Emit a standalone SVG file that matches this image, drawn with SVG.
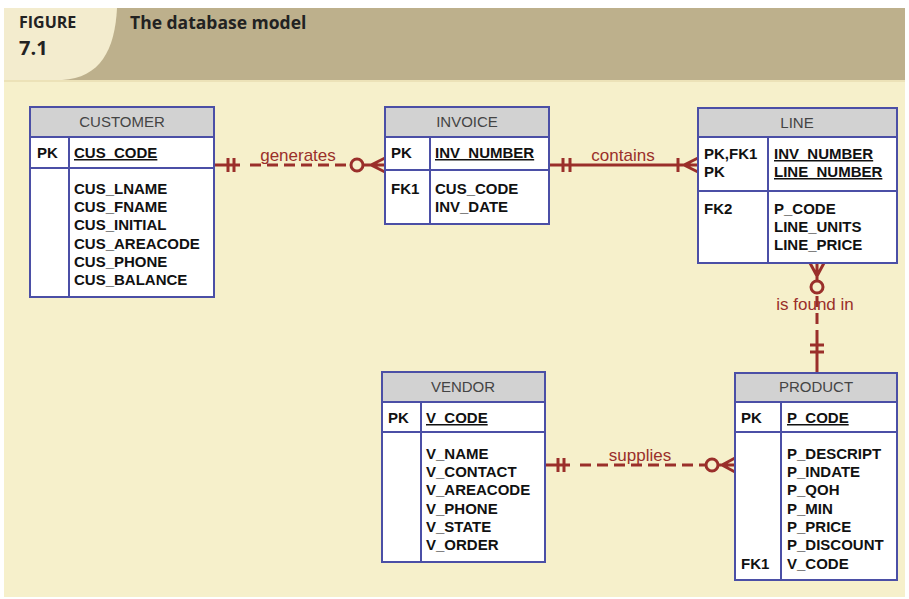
<svg xmlns="http://www.w3.org/2000/svg" width="909" height="599" viewBox="0 0 909 599">
<style>
.box{fill:#ffffff;stroke:#4b4fa6;stroke-width:2}
.hdr{fill:#d2d2d2;stroke:#4b4fa6;stroke-width:2}
.ln{stroke:#4b4fa6;stroke-width:2;fill:none}
.t{font-family:"Liberation Sans",Arial,sans-serif;font-size:15px;font-weight:bold;fill:#111}
.h{font-family:"Liberation Sans",Arial,sans-serif;font-size:15px;fill:#444;text-anchor:middle}
.u{text-decoration:underline}
.c{stroke:#9a2f2a;stroke-width:3;fill:none}
.d{stroke-dasharray:11 6}
.lbl{font-family:"Liberation Sans",Arial,sans-serif;font-size:17px;fill:#9a2f2a;text-anchor:middle}
.ci{stroke:#9a2f2a;stroke-width:3;fill:#f6f0cb}
.fig{font-family:'Open Sans','Noto Sans',sans-serif;font-weight:700;fill:#222}
</style>
<rect x="0" y="0" width="909" height="599" fill="#ffffff"/>
<rect x="4" y="8" width="901" height="589" fill="#f6f0cb"/>
<rect x="4" y="8" width="901" height="72" fill="#bdb08c"/>
<rect x="4" y="80" width="901" height="2" fill="#ece2b8"/>
<path d="M4 8 L117 8 C115 50 100 78 62 80 L4 80 Z" fill="#f3ecce"/>
<text class="fig" x="19" y="28" font-size="16">FIGURE</text>
<text class="fig" x="19" y="55" font-size="20">7.1</text>
<text class="fig" x="130" y="29" font-size="17.5">The database model</text>

<g id="connectors">
  <!-- generates -->
  <path class="c" d="M214 165 H240 M228 158 V172 M234 158 V172"/>
  <path class="c d" d="M250 165 H351"/>
  <path class="c" d="M363 165 H385 M371 165 L385 158 M371 165 L385 172"/>
  <circle class="ci" cx="357" cy="165" r="6"/>
  <text class="lbl" x="298" y="161">generates</text>
  <!-- contains -->
  <path class="c" d="M549 165 H698 M563 158 V172 M570 158 V172 M678 158 V172 M684 165 L698 158 M684 165 L698 172"/>
  <text class="lbl" x="623" y="161">contains</text>
  <!-- is found in -->
  <path class="c" d="M817 263 V281 M817 276 L810 263 M817 276 L824 263"/>
  <path class="c d" d="M817 296 V338"/>
  <path class="c" d="M817 338 V373 M810 345 H824 M810 352 H824"/>
  <circle class="ci" cx="817" cy="287" r="6"/>
  <text class="lbl" x="815" y="310">is found in</text>
  <!-- supplies -->
  <path class="c" d="M545 465 H570 M558 458 V472 M564 458 V472"/>
  <path class="c d" d="M580 465 H706"/>
  <path class="c" d="M718 465 H735 M722 465 L735 458 M722 465 L735 472"/>
  <circle class="ci" cx="712" cy="465" r="6"/>
  <text class="lbl" x="640" y="461">supplies</text>
</g>

<g id="customer">
  <rect class="box" x="30" y="107" width="184" height="190"/>
  <rect class="hdr" x="30" y="107" width="184" height="30"/>
  <path class="ln" d="M30 168 H214 M69 137 V297"/>
  <text class="h" x="122" y="127">CUSTOMER</text>
  <text class="t" x="37" y="158">PK</text>
  <text class="t u" x="74" y="158">CUS_CODE</text>
  <text class="t" x="74" y="194">CUS_LNAME</text>
  <text class="t" x="74" y="212">CUS_FNAME</text>
  <text class="t" x="74" y="230">CUS_INITIAL</text>
  <text class="t" x="74" y="249">CUS_AREACODE</text>
  <text class="t" x="74" y="267">CUS_PHONE</text>
  <text class="t" x="74" y="285">CUS_BALANCE</text>
</g>

<g id="invoice">
  <rect class="box" x="385" y="107" width="164" height="117"/>
  <rect class="hdr" x="385" y="107" width="164" height="30"/>
  <path class="ln" d="M385 170 H549 M430 137 V224"/>
  <text class="h" x="467" y="127">INVOICE</text>
  <text class="t" x="391" y="158">PK</text>
  <text class="t u" x="435" y="158">INV_NUMBER</text>
  <text class="t" x="391" y="194">FK1</text>
  <text class="t" x="435" y="194">CUS_CODE</text>
  <text class="t" x="435" y="212">INV_DATE</text>
</g>

<g id="line">
  <rect class="box" x="698" y="108" width="199" height="155"/>
  <rect class="hdr" x="698" y="108" width="199" height="29"/>
  <path class="ln" d="M698 191 H897 M768 137 V263"/>
  <text class="h" x="797" y="128">LINE</text>
  <text class="t" x="704" y="159">PK,FK1</text>
  <text class="t" x="704" y="177">PK</text>
  <text class="t u" x="774" y="159">INV_NUMBER</text>
  <text class="t u" x="774" y="177">LINE_NUMBER</text>
  <text class="t" x="704" y="214">FK2</text>
  <text class="t" x="774" y="214">P_CODE</text>
  <text class="t" x="774" y="232">LINE_UNITS</text>
  <text class="t" x="774" y="250">LINE_PRICE</text>
</g>

<g id="vendor">
  <rect class="box" x="382" y="372" width="163" height="190"/>
  <rect class="hdr" x="382" y="372" width="163" height="30"/>
  <path class="ln" d="M382 432 H545 M421 402 V562"/>
  <text class="h" x="463" y="392">VENDOR</text>
  <text class="t" x="388" y="423">PK</text>
  <text class="t u" x="426" y="423">V_CODE</text>
  <text class="t" x="426" y="459">V_NAME</text>
  <text class="t" x="426" y="477">V_CONTACT</text>
  <text class="t" x="426" y="495">V_AREACODE</text>
  <text class="t" x="426" y="514">V_PHONE</text>
  <text class="t" x="426" y="532">V_STATE</text>
  <text class="t" x="426" y="550">V_ORDER</text>
</g>

<g id="product">
  <rect class="box" x="735" y="373" width="162" height="207"/>
  <rect class="hdr" x="735" y="373" width="162" height="29"/>
  <path class="ln" d="M735 432 H897 M781 402 V580"/>
  <text class="h" x="816" y="392">PRODUCT</text>
  <text class="t" x="741" y="423">PK</text>
  <text class="t u" x="787" y="423">P_CODE</text>
  <text class="t" x="787" y="459">P_DESCRIPT</text>
  <text class="t" x="787" y="477">P_INDATE</text>
  <text class="t" x="787" y="495">P_QOH</text>
  <text class="t" x="787" y="514">P_MIN</text>
  <text class="t" x="787" y="532">P_PRICE</text>
  <text class="t" x="787" y="550">P_DISCOUNT</text>
  <text class="t" x="741" y="569">FK1</text>
  <text class="t" x="787" y="569">V_CODE</text>
</g>
</svg>
